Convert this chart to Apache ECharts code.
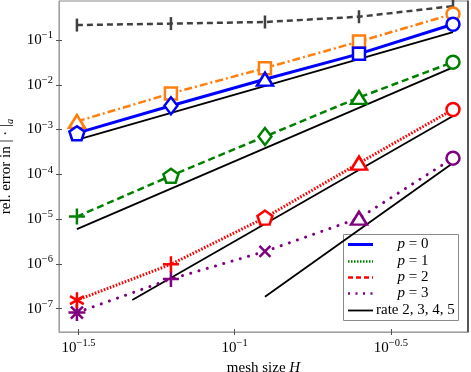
<!DOCTYPE html>
<html><head><meta charset="utf-8">
<script src="https://cdn.jsdelivr.net/npm/echarts@6/dist/echarts.min.js"></script>
<style>html,body{margin:0;padding:0;background:#fff}#c{width:471px;height:372px}</style>
</head><body><div id="c"></div>
<script>
// ---------- data ----------
const meshH = [0.03125, 0.0625, 0.125, 0.25, 0.5];
const errGray   = [0.215, 0.232, 0.252, 0.33, 0.57];
const errOrange = [1.52e-3, 6.4e-3, 0.0235, 0.092, 0.38];
const errP0     = [8.3e-4, 3.4e-3, 0.0133, 0.049, 0.224];
const errP1     = [1.14e-5, 9.3e-5, 7.0e-4, 5.2e-3, 0.032];
const errP2     = [1.55e-7, 9.8e-7, 1.08e-5, 1.78e-4, 2.8e-3];
const errP3     = [8.2e-8, 4.6e-7, 1.9e-6, 1.05e-5, 2.3e-4];
const rate2H = [0.03125, 0.5], rate2E = [5.9e-4, 0.15];
const rate3H = [0.03125, 0.5], rate3E = [6.0e-6, 0.0245];
const rate4H = [0.047, 0.5],   rate4E = [1.57e-7, 2.0e-3];
const rate5H = [0.125, 0.5],   rate5E = [1.85e-7, 1.8e-4];
const xTickExp = [-1.5, -1, -0.5];
const yTickExp = [-7, -6, -5, -4, -3, -2, -1];
const legendLabels = ['p = 0', 'p = 1', 'p = 2', 'p = 3', 'rate 2, 3, 4, 5'];

// ---------- styles ----------
const FONT = 'Liberation Serif';
const markersGray   = ['vbar','vbar','vbar','vbar','vbar'];
const markersOrange = ['triangle','rect','rect','rect','circle'];
const markersP0     = ['pentagon','diamond','triangle','rect','circle'];
const markersP1     = ['plus','pentagon','diamond','triangle','circle'];
const markersP2     = ['ast6','plus','pentagon','triangle','circle'];
const markersP3     = ['ast8','plus','cross','triangle','circle'];
const MK = {
  pentagon: {symbol:'path://M0,-1L0.951,-0.309L0.588,0.809L-0.588,0.809L-0.951,-0.309Z', size:[15,14], hollow:true},
  diamond:  {symbol:'diamond', size:[13,17], hollow:true},
  triangle: {symbol:'triangle', size:[16,13], hollow:true},
  rect:     {symbol:'rect', size:12, hollow:true},
  circle:   {symbol:'circle', size:13, hollow:true},
  plus:     {symbol:'path://M0,-1L0,1M-1,0L1,0', size:16, hollow:false},
  cross:    {symbol:'path://M-1,-1L1,1M-1,1L1,-1', size:11, hollow:false},
  ast6:     {symbol:'path://M-1,-1M1,1M0,-1L0,1M-0.866,-0.5L0.866,0.5M-0.866,0.5L0.866,-0.5', size:16, hollow:false},
  ast8:     {symbol:'path://M0,-1L0,1M-1,0L1,0M-0.707,-0.707L0.707,0.707M-0.707,0.707L0.707,-0.707', size:17, hollow:false},
  vbar:     {symbol:'rect', size:[2.5,13], fillOnly:true}
};
function pts(xs, ys, markers, color) {
  return ys.map((y, i) => {
    const d = {value: [xs[i], y]};
    if (markers) {
      const m = MK[markers[i]];
      d.symbol = m.symbol; d.symbolSize = m.size;
      if (m.fillOnly) d.itemStyle = {color: color, borderWidth: 0};
      else d.itemStyle = {color: m.hollow ? '#fff' : color, borderColor: color, borderWidth: 2.5};
    }
    return d;
  });
}
function lineSeries(name, xs, ys, markers, color, width, type, cap, z) {
  return {
    name, type: 'line', z: z, data: pts(xs, ys, markers, color),
    showSymbol: !!markers, symbol: 'none', clip: false,
    lineStyle: {color, width, type, cap: cap || 'butt'},
    itemStyle: {color}, emphasis: {disabled: true}
  };
}
const supFmt = v => {
  const e = Math.round(Math.log10(v) * 10) / 10;
  return '{b|10}{s|' + String(e).replace('-', '\u2212') + '}';
};
const richTick = {
  b: {fontFamily: FONT, fontSize: 15, lineHeight: 20, color: '#000'},
  s: {fontFamily: FONT, fontSize: 10.5, lineHeight: 12, verticalAlign: 'top', color: '#000'}
};
const xMin = Math.pow(10, -1.5625), xMax = Math.pow(10, -0.253);
const yMin = Math.pow(10, -7.52), yMax = Math.pow(10, -0.13);
const xTicks = xTickExp.map(e => Math.pow(10, e));
const yTicks = yTickExp.map(e => Math.pow(10, e));

const chart = echarts.init(document.getElementById('c'), null, {renderer: 'canvas'});
const axisBase = {type: 'log', logBase: 10, splitLine: {show: false}, minorTick: {show: false}};
chart.setOption({
  animation: false,
  backgroundColor: '#fff',
  grid: {left: 59, right: 3, top: 1, bottom: 40, show: true, borderColor: '#8a8a8a', borderWidth: 1, containLabel: false, outerBoundsMode: 'none'},
  xAxis: [
    Object.assign({}, axisBase, {
      min: xMin, max: xMax, position: 'bottom',
      axisLine: {lineStyle: {color: '#a0a0a0', width: 1}},
      axisTick: {customValues: xTicks, length: 3, inside: false, lineStyle: {color: '#555'}},
      axisLabel: {customValues: xTicks, formatter: supFmt, rich: richTick, margin: 6},
      name: '{n|mesh size }{i|H}', nameLocation: 'middle', nameGap: 26,
      nameTextStyle: {rich: {n: {fontFamily: FONT, fontSize: 15, color: '#000'}, i: {fontFamily: FONT, fontSize: 15, fontStyle: 'italic', color: '#000'}}}
    }),
    Object.assign({}, axisBase, {
      min: xMin, max: xMax, position: 'bottom',
      axisLine: {show: false},
      axisTick: {customValues: xTicks, length: 3, inside: true, lineStyle: {color: '#555'}},
      axisLabel: {show: false}
    })
  ],
  yAxis: [
    Object.assign({}, axisBase, {
      min: yMin, max: yMax, position: 'left',
      axisLine: {lineStyle: {color: '#a0a0a0', width: 1}},
      axisTick: {customValues: yTicks, length: 3, inside: false, lineStyle: {color: '#555'}},
      axisLabel: {customValues: yTicks, formatter: supFmt, rich: richTick, margin: 6},
      name: '{n|rel. error in | \u00b7 |}{a|a}', nameLocation: 'middle', nameGap: 43,
      nameTextStyle: {rich: {n: {fontFamily: FONT, fontSize: 15, lineHeight: 20, color: '#000'}, a: {fontFamily: FONT, fontSize: 10.5, fontStyle: 'italic', verticalAlign: 'bottom', lineHeight: 12, color: '#000'}}}
    }),
    Object.assign({}, axisBase, {
      min: yMin, max: yMax, position: 'left',
      axisLine: {show: false},
      axisTick: {customValues: yTicks, length: 3, inside: true, lineStyle: {color: '#555'}},
      axisLabel: {show: false}
    }),
    Object.assign({}, axisBase, {
      min: yMin, max: yMax, position: 'right',
      axisLine: {lineStyle: {color: '#333', width: 1.5}},
      axisTick: {show: false}, axisLabel: {show: false}
    })
  ],
  series: [
    lineSeries('rate2', rate2H, rate2E, null, '#000', 1.8, 'solid', 'butt', 1),
    lineSeries('rate3', rate3H, rate3E, null, '#000', 1.8, 'solid', 'butt', 1),
    lineSeries('rate4', rate4H, rate4E, null, '#000', 1.8, 'solid', 'butt', 1),
    lineSeries('rate5', rate5H, rate5E, null, '#000', 1.8, 'solid', 'butt', 1),
    lineSeries('ref', meshH, errGray, markersGray, '#404040', 2.5, [6, 4], 'butt', 2),
    lineSeries('p = 3', meshH, errP3, markersP3, '#800080', 3, [0.1, 8.5], 'round', 3),
    lineSeries('p = 2', meshH, errP2, markersP2, '#ff0000', 3, [1.6, 1.6], 'butt', 4),
    lineSeries('p = 1', meshH, errP1, markersP1, '#008000', 2.5, [7, 4], 'butt', 5),
    lineSeries('orange', meshH, errOrange, markersOrange, '#ff7f0e', 2.5, [8, 3, 2, 3], 'butt', 6),
    lineSeries('p = 0', meshH, errP0, markersP0, '#0000ff', 3, 'solid', 'butt', 7)
  ],
  graphic: [{
    type: 'group', left: 343, top: 234, z: 100,
    children: [
      {type: 'rect', shape: {x: 0.5, y: 0.5, width: 115, height: 86}, style: {fill: '#fff', stroke: '#8a8a8a', lineWidth: 1}},
      {type: 'line', shape: {x1: 5, y1: 10.5, x2: 30, y2: 10.5}, style: {stroke: '#0000ff', lineWidth: 3}},
      {type: 'line', shape: {x1: 5, y1: 27.5, x2: 30, y2: 27.5}, style: {stroke: '#008000', lineWidth: 2.5, lineDash: [1.5, 1.5]}},
      {type: 'line', shape: {x1: 5, y1: 43.5, x2: 30, y2: 43.5}, style: {stroke: '#ff0000', lineWidth: 2.5, lineDash: [5, 3]}},
      {type: 'line', shape: {x1: 5, y1: 59.5, x2: 30, y2: 59.5}, style: {stroke: '#800080', lineWidth: 2.5, lineDash: [2, 5.5]}},
      {type: 'line', shape: {x1: 5, y1: 76.5, x2: 30, y2: 76.5}, style: {stroke: '#000', lineWidth: 1.8}},
      ...legendLabels.map((t, i) => ({
        type: 'text', x: i < 4 ? 70 : 33, y: [10.5, 27.5, 43.5, 59.5, 76.5][i],
        style: {
          text: i < 4 ? '{i|' + t.slice(0, 1) + '}' + t.slice(1) : t,
          fill: '#000', font: '15px "' + FONT + '"', align: i < 4 ? 'center' : 'left', verticalAlign: 'middle',
          rich: {i: {fontStyle: 'italic', fontFamily: FONT, fontSize: 15}}
        }
      }))
    ]
  }]
});
</script></body></html>
